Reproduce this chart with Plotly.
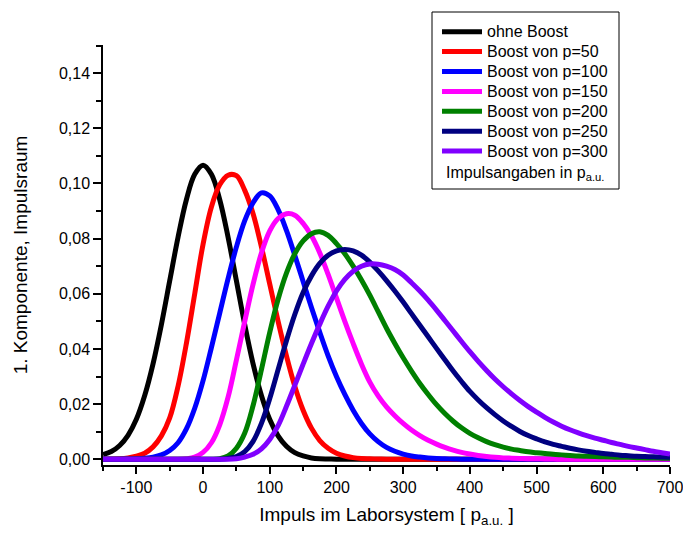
import plotly.graph_objects as go

# ---------------- data ----------------
impuls = [-150, -137.5, -125, -112.5, -100, -87.5, -75, -62.5, -50, -37.5, -25, -12.5,
          0, 12.5, 25, 37.5, 50, 62.5, 75, 87.5, 100, 112.5, 125, 137.5, 150, 162.5,
          175, 187.5, 200, 212.5, 225, 237.5, 250, 262.5, 275, 287.5, 300, 312.5,
          325, 337.5, 350, 362.5, 375, 387.5, 400, 412.5, 425, 437.5, 450, 462.5,
          475, 487.5, 500, 512.5, 525, 537.5, 550, 562.5, 575, 587.5, 600, 612.5,
          625, 637.5, 650, 662.5, 675, 687.5, 700]

ohne_boost = [0.0017, 0.0028, 0.0050, 0.0087, 0.0145, 0.0231, 0.0346, 0.0488, 0.0647,
              0.0805, 0.0941, 0.1033, 0.1066, 0.1033, 0.0941, 0.0805, 0.0647, 0.0488,
              0.0346, 0.0231, 0.0144, 0.0085, 0.0047, 0.0024, 0.0012, 0.0005, 0.0002,
              0.0001] + [0] * 41

boost_50 = [0, 0.0001, 0.0002, 0.0005, 0.0011, 0.0022, 0.0045, 0.0085, 0.0150, 0.0265,
            0.0420, 0.0600, 0.0780, 0.0915, 0.0995, 0.1030, 0.1028, 0.0975, 0.0890,
            0.0770, 0.0635, 0.0500, 0.0375, 0.0265, 0.0178, 0.0113, 0.0068, 0.0040,
            0.0022, 0.0012, 0.0006, 0.0003, 0.0002, 0.0001] + [0] * 35

boost_100 = [0, 0, 0, 0.0001, 0.0002, 0.0004, 0.0008, 0.0016, 0.0032, 0.0060, 0.0110,
             0.0185, 0.0285, 0.0405, 0.0530, 0.0655, 0.0770, 0.0865, 0.0930, 0.0966,
             0.0955, 0.0905, 0.0830, 0.0740, 0.0645, 0.0550, 0.0460, 0.0375, 0.0300,
             0.0235, 0.0178, 0.0130, 0.0092, 0.0064, 0.0043, 0.0029, 0.0019, 0.0012,
             0.0008, 0.0005, 0.0003, 0.0002, 0.0001] + [0] * 26

boost_150 = [0] * 10 + [0.0002, 0.0008, 0.0025, 0.0060, 0.0125, 0.0225, 0.0360, 0.0500,
             0.0635, 0.0748, 0.0828, 0.0873, 0.0890, 0.0885, 0.0855, 0.0810, 0.0748,
             0.0670, 0.0585, 0.0500, 0.0420, 0.0345, 0.0280, 0.0230, 0.0190, 0.0158,
             0.0130, 0.0106, 0.0086, 0.0069, 0.0055, 0.0043, 0.0033, 0.0025, 0.0019,
             0.0014, 0.0010, 0.0007, 0.0005, 0.0004, 0.0003, 0.0002, 0.0002, 0.0001,
             0.0001] + [0] * 14

boost_200 = [0] * 14 + [0.0002, 0.0012, 0.0040, 0.0095, 0.0195, 0.0325, 0.0460, 0.0580,
             0.0675, 0.0745, 0.0792, 0.0818, 0.0825, 0.0812, 0.0782, 0.0745, 0.0700,
             0.0650, 0.0595, 0.0535, 0.0475, 0.0420, 0.0368, 0.0320, 0.0275, 0.0235,
             0.0198, 0.0166, 0.0138, 0.0114, 0.0094, 0.0078, 0.0064, 0.0053, 0.0044,
             0.0037, 0.0032, 0.0027, 0.0024, 0.0021, 0.0018, 0.0016, 0.0014, 0.0012,
             0.0011, 0.0010, 0.0009, 0.0008, 0.0007, 0.0007, 0.0006, 0.0005, 0.0005,
             0.0004, 0.0004]

boost_250 = [0] * 15 + [0.0003, 0.0010, 0.0028, 0.0065, 0.0130, 0.0220, 0.0325, 0.0430,
             0.0525, 0.0605, 0.0665, 0.0710, 0.0740, 0.0756, 0.0761, 0.0756, 0.0740,
             0.0715, 0.0683, 0.0648, 0.0610, 0.0570, 0.0528, 0.0486, 0.0444, 0.0402,
             0.0361, 0.0320, 0.0282, 0.0246, 0.0215, 0.0187, 0.0162, 0.0139, 0.0119,
             0.0101, 0.0086, 0.0074, 0.0063, 0.0054, 0.0047, 0.0040, 0.0034, 0.0029,
             0.0025, 0.0021, 0.0018, 0.0015, 0.0013, 0.0011, 0.0010, 0.0009, 0.0008,
             0.0007]

boost_300 = [0] * 16 + [0.0002, 0.0008, 0.0018, 0.0038, 0.0072, 0.0122, 0.0192, 0.0268,
             0.0345, 0.0420, 0.0490, 0.0555, 0.0610, 0.0652, 0.0682, 0.0700, 0.0708,
             0.0707, 0.0700, 0.0688, 0.0668, 0.0640, 0.0610, 0.0577, 0.0541, 0.0503,
             0.0465, 0.0427, 0.0390, 0.0355, 0.0322, 0.0291, 0.0263, 0.0237, 0.0213,
             0.0191, 0.0171, 0.0152, 0.0135, 0.0120, 0.0107, 0.0096, 0.0086, 0.0077,
             0.0069, 0.0061, 0.0054, 0.0047, 0.0041, 0.0035, 0.0029, 0.0024, 0.0019]

series_names = ["ohne Boost", "Boost von p=50", "Boost von p=100", "Boost von p=150",
                "Boost von p=200", "Boost von p=250", "Boost von p=300"]
series_values = [ohne_boost, boost_50, boost_100, boost_150, boost_200, boost_250, boost_300]
series_colors = ["#000000", "#FF0000", "#0000FF", "#FF00FF", "#008000", "#000080", "#8000FF"]

for _vals in series_values:
    assert len(_vals) == len(impuls), len(_vals)

x_tick_vals = [-100, 0, 100, 200, 300, 400, 500, 600, 700]
x_tick_text = ["-100", "0", "100", "200", "300", "400", "500", "600", "700"]
x_minor_vals = [-150, -50, 50, 150, 250, 350, 450, 550, 650]
y_tick_vals = [0.00, 0.02, 0.04, 0.06, 0.08, 0.10, 0.12, 0.14]
y_tick_text = ["0,00", "0,02", "0,04", "0,06", "0,08", "0,10", "0,12", "0,14"]
y_minor_vals = [0.01, 0.03, 0.05, 0.07, 0.09, 0.11, 0.13, 0.15]

# ---------------- layout geometry ----------------
W, H = 683, 534
ML, MR, MT, MB = 103, 13, 45, 69
PW, PH = W - ML - MR, H - MT - MB
FONT = "Liberation Sans, Arial, sans-serif"


def px(xp):
    return (xp - ML) / PW


def py(yp):
    return (H - MB - yp) / PH


fig = go.Figure()
for name, vals, col in zip(series_names, series_values, series_colors):
    fig.add_trace(go.Scatter(x=impuls, y=vals, mode="lines", name=name,
                             line=dict(color=col, width=5, shape="spline", smoothing=1.0),
                             showlegend=False, hoverinfo="x+y+name"))

shapes = [dict(type="rect", xref="paper", yref="paper", x0=px(432), x1=px(619),
               y0=py(189), y1=py(12), line=dict(color="black", width=1),
               fillcolor="white", layer="above")]
annotations = []
for i, (name, col) in enumerate(zip(series_names, series_colors)):
    yy = py(31.7 + 19.9 * i)
    shapes.append(dict(type="line", xref="paper", yref="paper", x0=px(442), x1=px(482),
                       y0=yy, y1=yy, line=dict(color=col, width=5), layer="above"))
    annotations.append(dict(text=name, xref="paper", yref="paper", x=px(485), y=yy,
                            xanchor="left", yanchor="middle", showarrow=False,
                            font=dict(family=FONT, size=16, color="black")))
annotations.append(dict(text="Impulsangaben in p<sub>a.u.</sub>", xref="paper", yref="paper",
                        x=px(444), y=py(173), xanchor="left", yanchor="middle",
                        showarrow=False, font=dict(family=FONT, size=16, color="black")))

fig.update_layout(
    width=W, height=H,
    margin=dict(l=ML, r=MR, t=MT, b=MB, pad=0),
    paper_bgcolor="white", plot_bgcolor="white",
    font=dict(family=FONT, size=16, color="black"),
    shapes=shapes, annotations=annotations,
    showlegend=False,
)
fig.update_xaxes(
    range=[-150, 700], showgrid=False, zeroline=False,
    showline=True, linecolor="black", linewidth=1.5,
    tickmode="array", tickvals=x_tick_vals, ticktext=x_tick_text,
    ticks="outside", ticklen=7, tickwidth=1.5, tickcolor="black",
    tickfont=dict(family=FONT, size=16), ticklabeloverflow="allow",
    minor=dict(tickmode="array", tickvals=x_minor_vals, ticks="outside",
               ticklen=4, tickwidth=1.5, tickcolor="black", showgrid=False),
    title=dict(text="Impuls im Laborsystem [ p<sub>a.u.</sub> ]",
               font=dict(family=FONT, size=19), standoff=13),
    automargin=False,
)
fig.update_yaxes(
    range=[-0.00207, 0.1502], showgrid=False, zeroline=False,
    showline=True, linecolor="black", linewidth=1.5,
    tickmode="array", tickvals=y_tick_vals, ticktext=y_tick_text,
    ticks="outside", ticklen=8, tickwidth=1.5, tickcolor="black",
    tickfont=dict(family=FONT, size=16),
    minor=dict(tickmode="array", tickvals=y_minor_vals, ticks="outside",
               ticklen=5, tickwidth=1.5, tickcolor="black", showgrid=False),
    title=dict(text="1. Komponente, Impulsraum",
               font=dict(family=FONT, size=19), standoff=26),
    automargin=False,
)

fig.write_html("out.html")
